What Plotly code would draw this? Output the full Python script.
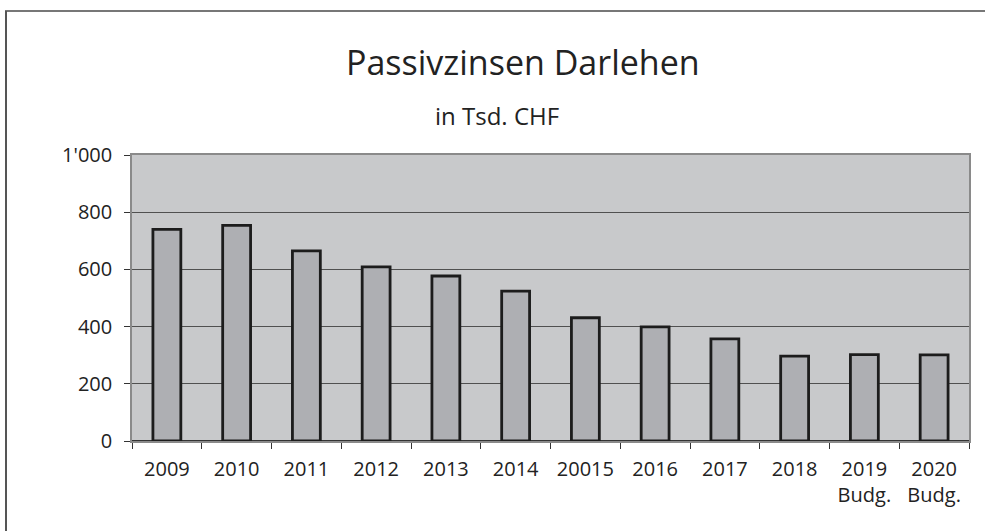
import plotly.graph_objects as go

categories = ["2009", "2010", "2011", "2012", "2013", "2014", "20015", "2016", "2017", "2018", "2019<br>Budg.", "2020<br>Budg."]
values = [740, 754, 665, 609, 577, 524, 431, 399, 357, 297, 302, 301]
y_tickvals = [0, 200, 400, 600, 800, 1000]
y_ticktext = ["0", "200", "400", "600", "800", "1'000"]
title_text = "Passivzinsen Darlehen"
subtitle_text = "in Tsd. CHF"

W, H = 985, 531
L, R, T, B = 132, 16, 155, 90
pw, ph = W - L - R, H - T - B

def px_x(x):
    return (x - L) / pw

def px_y(y):
    return (H - B - y) / ph

FONT = "Open Sans"

fig = go.Figure(go.Bar(
    x=categories, y=values,
    marker=dict(color="#aeafb3", line=dict(color="#1c1c1c", width=2.8)),
    hoverinfo="skip",
))

fig.update_layout(
    width=W, height=H,
    margin=dict(l=L, r=R, t=T, b=B, pad=0),
    paper_bgcolor="white",
    plot_bgcolor="#c8c9cb",
    bargap=0.6,
    showlegend=False,
    font=dict(family=FONT, color="#222222", size=20),
    xaxis=dict(
        type="category",
        tickson="boundaries",
        ticks="outside", ticklen=6, tickcolor="#333333", tickwidth=1,
        showline=True, linecolor="#8a8a8a", linewidth=1.5, mirror=True,
        showgrid=False,
        tickfont=dict(family=FONT, size=20, color="#222222"),
        ticklabelstandoff=9,
    ),
    yaxis=dict(
        range=[0, 1000],
        tickvals=y_tickvals, ticktext=y_ticktext,
        ticks="outside", ticklen=6, tickcolor="#333333", tickwidth=1,
        showline=True, linecolor="#8a8a8a", linewidth=1.5, mirror=True,
        showgrid=True, gridcolor="#505050", gridwidth=1,
        zeroline=True, zerolinecolor="#333333", zerolinewidth=1.5,
        tickfont=dict(family=FONT, size=20, color="#222222"),
        ticklabelstandoff=8,
    ),
    annotations=[
        dict(text=title_text, x=px_x(523), y=px_y(62), xref="paper", yref="paper",
             xanchor="center", yanchor="middle", showarrow=False,
             font=dict(family=FONT, size=34, color="#222222")),
        dict(text=subtitle_text, x=px_x(497), y=px_y(116), xref="paper", yref="paper",
             xanchor="center", yanchor="middle", showarrow=False,
             font=dict(family=FONT, size=24, color="#222222")),
    ],
    shapes=[
        dict(type="line", xref="paper", yref="paper",
             x0=px_x(5), x1=px_x(985), y0=px_y(11), y1=px_y(11),
             line=dict(color="#777777", width=2)),
        dict(type="line", xref="paper", yref="paper",
             x0=px_x(6), x1=px_x(6), y0=px_y(11), y1=px_y(531),
             line=dict(color="#555555", width=2)),
    ],
)

fig.write_html("out.html", config={"displayModeBar": False},
               post_script="document.body.style.margin='0';document.body.style.overflow='hidden';")
